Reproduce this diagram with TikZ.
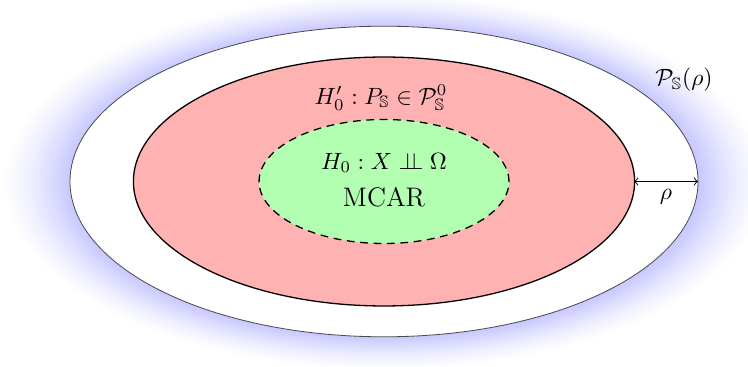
\documentclass[tikz,border=0pt]{standalone}
\usepackage{amsmath,amssymb}
\pgfdeclareradialshading{glowshade}{\pgfpoint{0bp}{0bp}}{%
  color(0bp)=(blue!22);
  color(19.6bp)=(blue!22);
  color(20.8bp)=(blue!14);
  color(22.2bp)=(blue!6);
  color(23.8bp)=(white);
  color(50bp)=(white)}
\begin{document}
\begin{tikzpicture}[x=0.425pt,y=-0.425pt,
  outerell/.style={draw=black!70,line width=0.35pt,fill=white},
  redell/.style={draw=black,line width=0.55pt,fill=red!30},
  greenell/.style={draw=black,line width=0.55pt,fill=green!30,dash pattern=on 3.3pt off 2.4pt},
  lbl/.style={inner sep=1pt,font=\normalsize},
  txt/.style={inner sep=1pt,font=\fontsize{11.4}{13}\selectfont}]
\useasboundingbox (0,0) rectangle (748,367);
\coordinate (c) at (384,181.5);
\begin{scope}
\clip (0,0) rectangle (748,367);
\shade[shading=glowshade] (c) ellipse [x radius=170pt, y radius=83.9pt];
\end{scope}
\draw[outerell] (c) ellipse [x radius=133.45pt, y radius=66.0pt];
\draw[redell] (c) ellipse [x radius=106.5pt, y radius=52.9pt];
\draw[greenell] (c) ellipse [x radius=53.1pt, y radius=26.35pt];
\node[lbl] (hp) at (381,98) {$H_0' : P_{\mathbb{S}} \in \mathcal{P}^0_{\mathbb{S}}$};
\node[lbl] (h0) at (384,163) {$H_0 : X \mathrel{\perp\!\!\!\perp} \Omega$};
\node[txt] (mcar) at (384,197) {MCAR};
\node[lbl] (ps) at (684,80) {$\mathcal{P}_{\mathbb{S}}(\rho)$};
\coordinate (a1) at (634,181.5);
\coordinate (a2) at (698,181.5);
\draw[<->,line width=0.4pt] (a1) -- node[below=2pt,lbl] (rho) {$\rho$} (a2);
\end{tikzpicture}
\end{document}
